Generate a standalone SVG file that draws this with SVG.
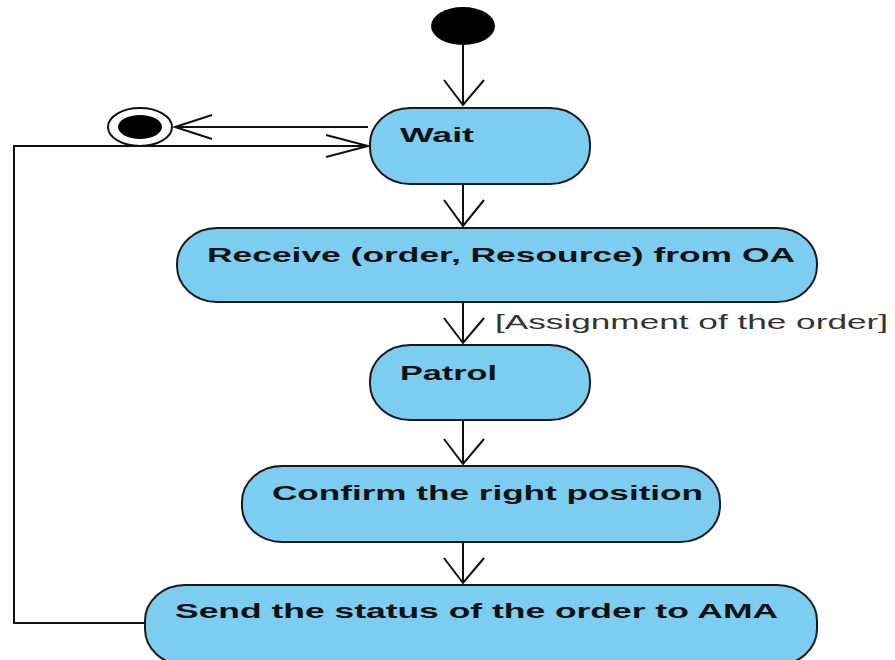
<svg xmlns="http://www.w3.org/2000/svg" width="895" height="660" viewBox="0 0 895 660">
  <style>
    .act { fill: #7dcdf1; stroke: #1a1a1a; stroke-width: 2; }
    .lbl { font-family: "Liberation Sans", Arial, sans-serif; font-weight: bold; font-size: 21px; fill: #111; }
    .guard { font-family: "Liberation Sans", Arial, sans-serif; font-size: 20px; fill: #333; }
    .edge { fill: none; stroke: #111; stroke-width: 2; }
    .head { fill: none; stroke: #111; stroke-width: 2; stroke-linejoin: miter; }
  </style>
  <rect width="895" height="660" fill="#ffffff"/>

  <g id="initial">
    <ellipse cx="463" cy="26" rx="32" ry="19" fill="#000"/>
  </g>

  <g id="final">
    <ellipse cx="140" cy="127" rx="32" ry="19" fill="#fff" stroke="#111" stroke-width="2"/>
    <ellipse cx="140" cy="127" rx="22" ry="12" fill="#000"/>
  </g>

  <g id="wait">
    <rect class="act" x="370" y="108" width="220" height="76" rx="40" ry="36"/>
    <text class="lbl" x="400" y="142" textLength="74" lengthAdjust="spacingAndGlyphs">Wait</text>
  </g>

  <g id="receive">
    <rect class="act" x="177" y="228" width="640" height="74" rx="40" ry="36"/>
    <text class="lbl" x="207" y="262" textLength="588" lengthAdjust="spacingAndGlyphs">Receive (order, Resource) from OA</text>
  </g>

  <g id="patrol">
    <rect class="act" x="370" y="345" width="220" height="75" rx="40" ry="36"/>
    <text class="lbl" x="400" y="380" textLength="97" lengthAdjust="spacingAndGlyphs">Patrol</text>
  </g>

  <g id="confirm">
    <rect class="act" x="242" y="466" width="478" height="76" rx="40" ry="36"/>
    <text class="lbl" x="272" y="500" textLength="431" lengthAdjust="spacingAndGlyphs">Confirm the right position</text>
  </g>

  <g id="send">
    <rect class="act" x="145" y="585" width="672" height="80" rx="40" ry="36"/>
    <text class="lbl" x="175" y="618" textLength="603" lengthAdjust="spacingAndGlyphs">Send the status of the order to AMA</text>
  </g>

  <g id="connectors">
    <!-- start to Wait -->
    <line class="edge" x1="463" y1="45" x2="463" y2="105"/>
    <polyline class="head" points="444,80 463,105 484,80"/>
    <!-- Wait to final -->
    <line class="edge" x1="368" y1="127" x2="175" y2="127"/>
    <polyline class="head" points="212,115 175,127 212,139"/>
    <!-- Wait to Receive -->
    <line class="edge" x1="463" y1="184" x2="463" y2="226"/>
    <polyline class="head" points="444,200 463,226 484,200"/>
    <!-- Receive to Patrol -->
    <line class="edge" x1="463" y1="302" x2="463" y2="343"/>
    <polyline class="head" points="444,318 463,343 484,318"/>
    <text class="guard" x="495" y="329" textLength="393" lengthAdjust="spacingAndGlyphs">[Assignment of the order]</text>
    <!-- Patrol to Confirm -->
    <line class="edge" x1="463" y1="420" x2="463" y2="464"/>
    <polyline class="head" points="444,439 463,464 484,439"/>
    <!-- Confirm to Send -->
    <line class="edge" x1="463" y1="542" x2="463" y2="583"/>
    <polyline class="head" points="444,558 463,583 484,558"/>
    <!-- Send back to Wait -->
    <polyline class="edge" points="145,623 14,623 14,146 368,146"/>
    <polyline class="head" points="326,135 368,146 326,157"/>
  </g>
</svg>
